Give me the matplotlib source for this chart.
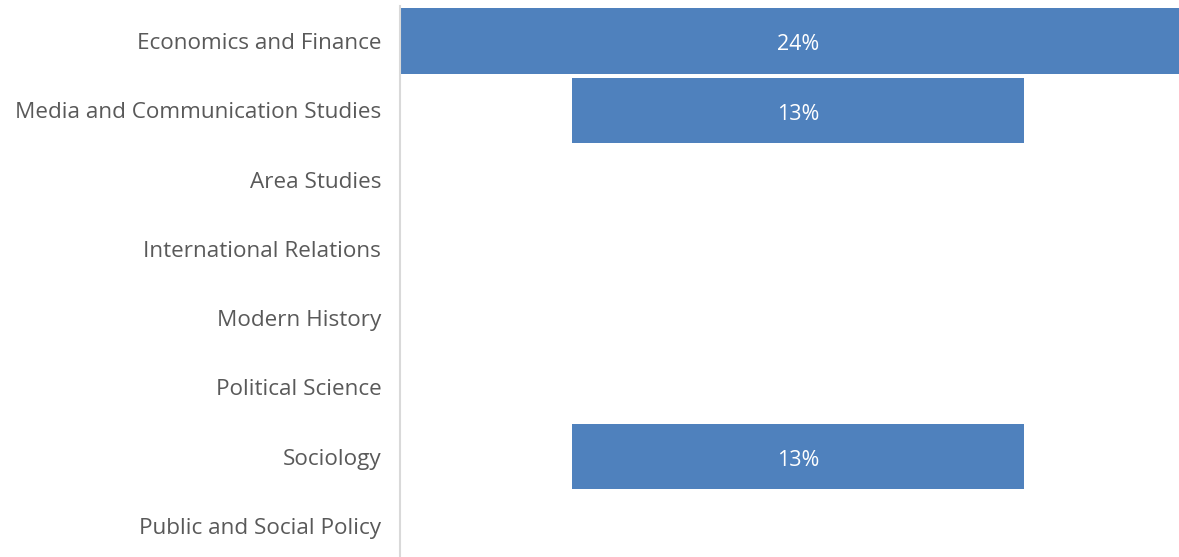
import numpy as np
import matplotlib.pyplot as plt
from matplotlib.transforms import ScaledTranslation

plt.rcParams['font.family'] = ['Open Sans', 'DejaVu Sans']

subjects = ["Economics and Finance", "Media and Communication Studies", "Area Studies",
            "International Relations", "Modern History", "Political Science",
            "Sociology", "Public and Social Policy"]
shares = [24, 13, 0, 0, 0, 0, 13, 0]

barColor = "#4f81bd"
textColor = "#595959"

fig = plt.figure(figsize=(11.79, 5.57), dpi=100)
ax = fig.add_axes([400/1179, -3.6/557, 779/1179, 554.3/557])

y = np.arange(len(subjects))
vals = np.array(shares, dtype=float)
ax.barh(y, vals, left=-vals/2, height=0.94, color=barColor)

# nudge value text down a few pixels to sit on the bar centres
down_val = ScaledTranslation(0, -4/100, fig.dpi_scale_trans)

for yi, v in zip(y, shares):
    if v > 0:
        ax.text(0, yi, f"{v}%", ha="center", va="center", color="white",
                fontsize=15.5, transform=ax.transData + down_val)

ax.set_ylim(len(subjects) - 0.5, -0.5)
ax.set_xlim(-11.44, 10.95)
ax.set_yticks(y)
ax.set_yticklabels(subjects, fontsize=16.2, color=textColor)
for t in ax.get_yticklabels():
    t.set_verticalalignment("center_baseline")
ax.tick_params(axis="y", length=0, pad=13.5)
ax.set_xticks([])
for s in ["top", "right", "bottom"]:
    ax.spines[s].set_visible(False)
ax.spines["left"].set_color("#d9d9d9")
ax.spines["left"].set_linewidth(1.5)

plt.savefig("out.png", dpi=100)
